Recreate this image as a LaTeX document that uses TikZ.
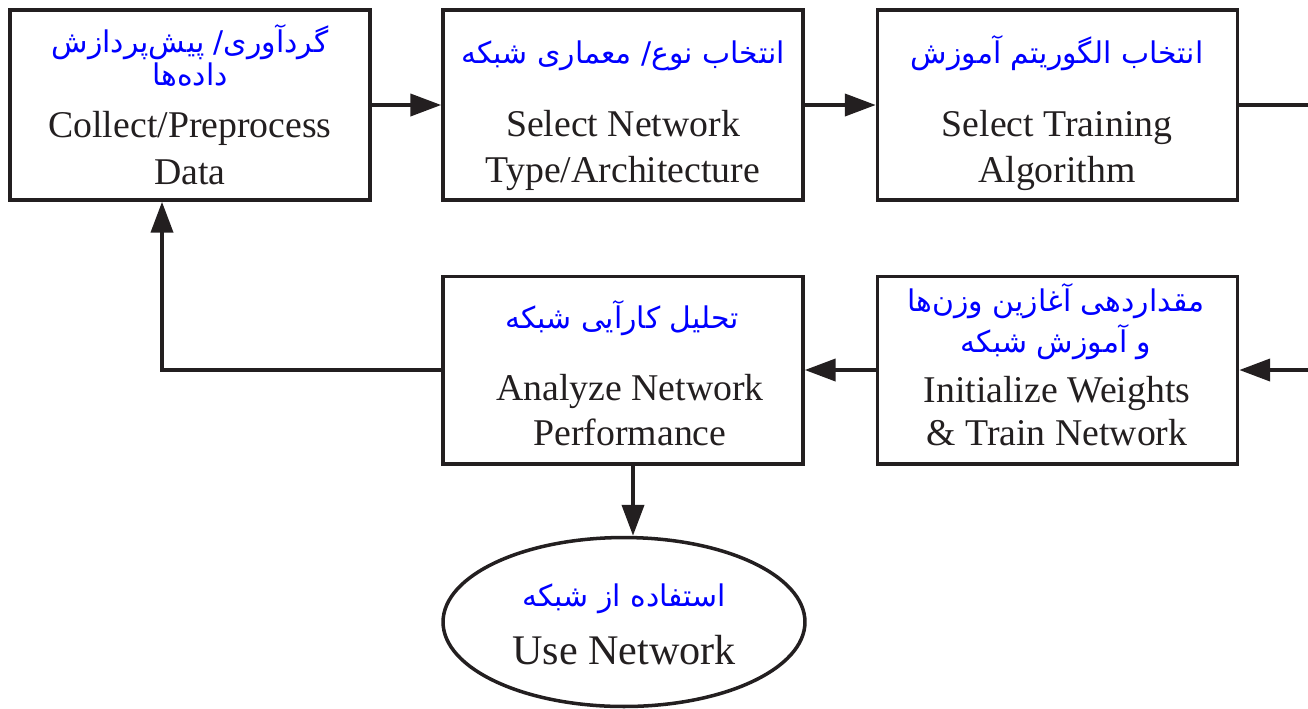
\documentclass[tikz,border=0pt]{standalone}
\usepackage{fontspec}
\setmainfont{Liberation Serif}
\newfontfamily\fafont[Script=Arabic]{DejaVu Sans}
\TeXXeTstate=1
\usepackage{tikz}
\usetikzlibrary{arrows.meta}
\usetikzlibrary{shapes.geometric}
\usetikzlibrary{positioning}
\definecolor{ink}{HTML}{231F20}

\begin{document}
\begin{tikzpicture}[x=0.02cm, y=-0.02cm]
	\useasboundingbox (0,0) rectangle (1308,708);
	\begin{scope}[every node/.style={rectangle, draw=ink, line width=2pt, minimum width=7.2cm, minimum height=3.8cm}]
		\node (b1) at (190,105) {};
		\node (b2) at (623,105) {};
		\node (b3) at (1057.5,105) {};
		\node[minimum height=3.75cm] (b4) at (623,370) {};
		\node[minimum height=3.75cm] (b5) at (1057.5,370) {};
		\node[ellipse, minimum width=7.24cm, minimum height=3.38cm] (use) at (624,622) {};
	\end{scope}
	\coordinate (out) at (1308,105);
	\coordinate (in) at (1308,370);

	% persian labels
	\begin{scope}[every node/.style={anchor=base, inner sep=0pt, text=blue, font=\fafont\fontsize{17}{20}\selectfont}]
		\node (fa1a) at (190,52) {\beginR گردآوری/ پیش‌پردازش\endR};
		\node (fa1b) at (190,85) {\beginR داده‌ها\endR};
		\node (fa2) at (623,63) {\beginR انتخاب نوع/ معماری شبکه\endR};
		\node (fa3) at (1057,63) {\beginR انتخاب الگوریتم آموزش\endR};
		\node (fa4) at (622,328) {\beginR تحلیل کارآیی شبکه\endR};
		\node (fa5a) at (1056,311) {\beginR مقداردهی آغازین وزن‌ها\endR};
		\node (fa5b) at (1056,352) {\beginR و آموزش شبکه\endR};
		\node (fa6) at (624,606) {\beginR استفاده از شبکه\endR};
	\end{scope}

	% english labels
	\begin{scope}[every node/.style={anchor=base, inner sep=0pt, text=ink, font=\fontsize{21.5}{26}\selectfont}]
		\node (en1a) at (190,137) {Collect/Preprocess};
		\node (en1b) at (190,184) {Data};
		\node (en2a) at (623,136) {Select Network};
		\node (en2b) at (623,182) {Type/Architecture};
		\node (en3a) at (1057,136) {Select Training};
		\node (en3b) at (1057,182) {Algorithm};
		\node (en4a) at (630,400) {Analyze Network};
		\node (en4b) at (630,445) {Performance};
		\node (en5a) at (1057,402) {Initialize Weights};
		\node (en5b) at (1057,445) {\& Train Network};
		\node[font=\fontsize{24}{28}\selectfont] (en6) at (624,664) {Use Network};
	\end{scope}

	\begin{scope}[>={Stealth[inset=0pt, length=0.62cm, width=0.44cm]},
	              every edge/.style={draw=ink, line width=2.3pt, ->}]
		\path (b1) edge (b2);
		\path (b2) edge (b3);
		\path (b3) edge[-] (out);
		\path (in) edge (in -| b5.east);
		\path (b5.west) edge (b5.west -| b4.east);
		\path (b4.west) edge[to path={-| (\tikztotarget)}] ([xshift=-0.56cm]b1.south);
		\path ([xshift=0.2cm]b4.south) edge ([xshift=0.2cm]b4.south |- use.north);
	\end{scope}
\end{tikzpicture}
\end{document}
